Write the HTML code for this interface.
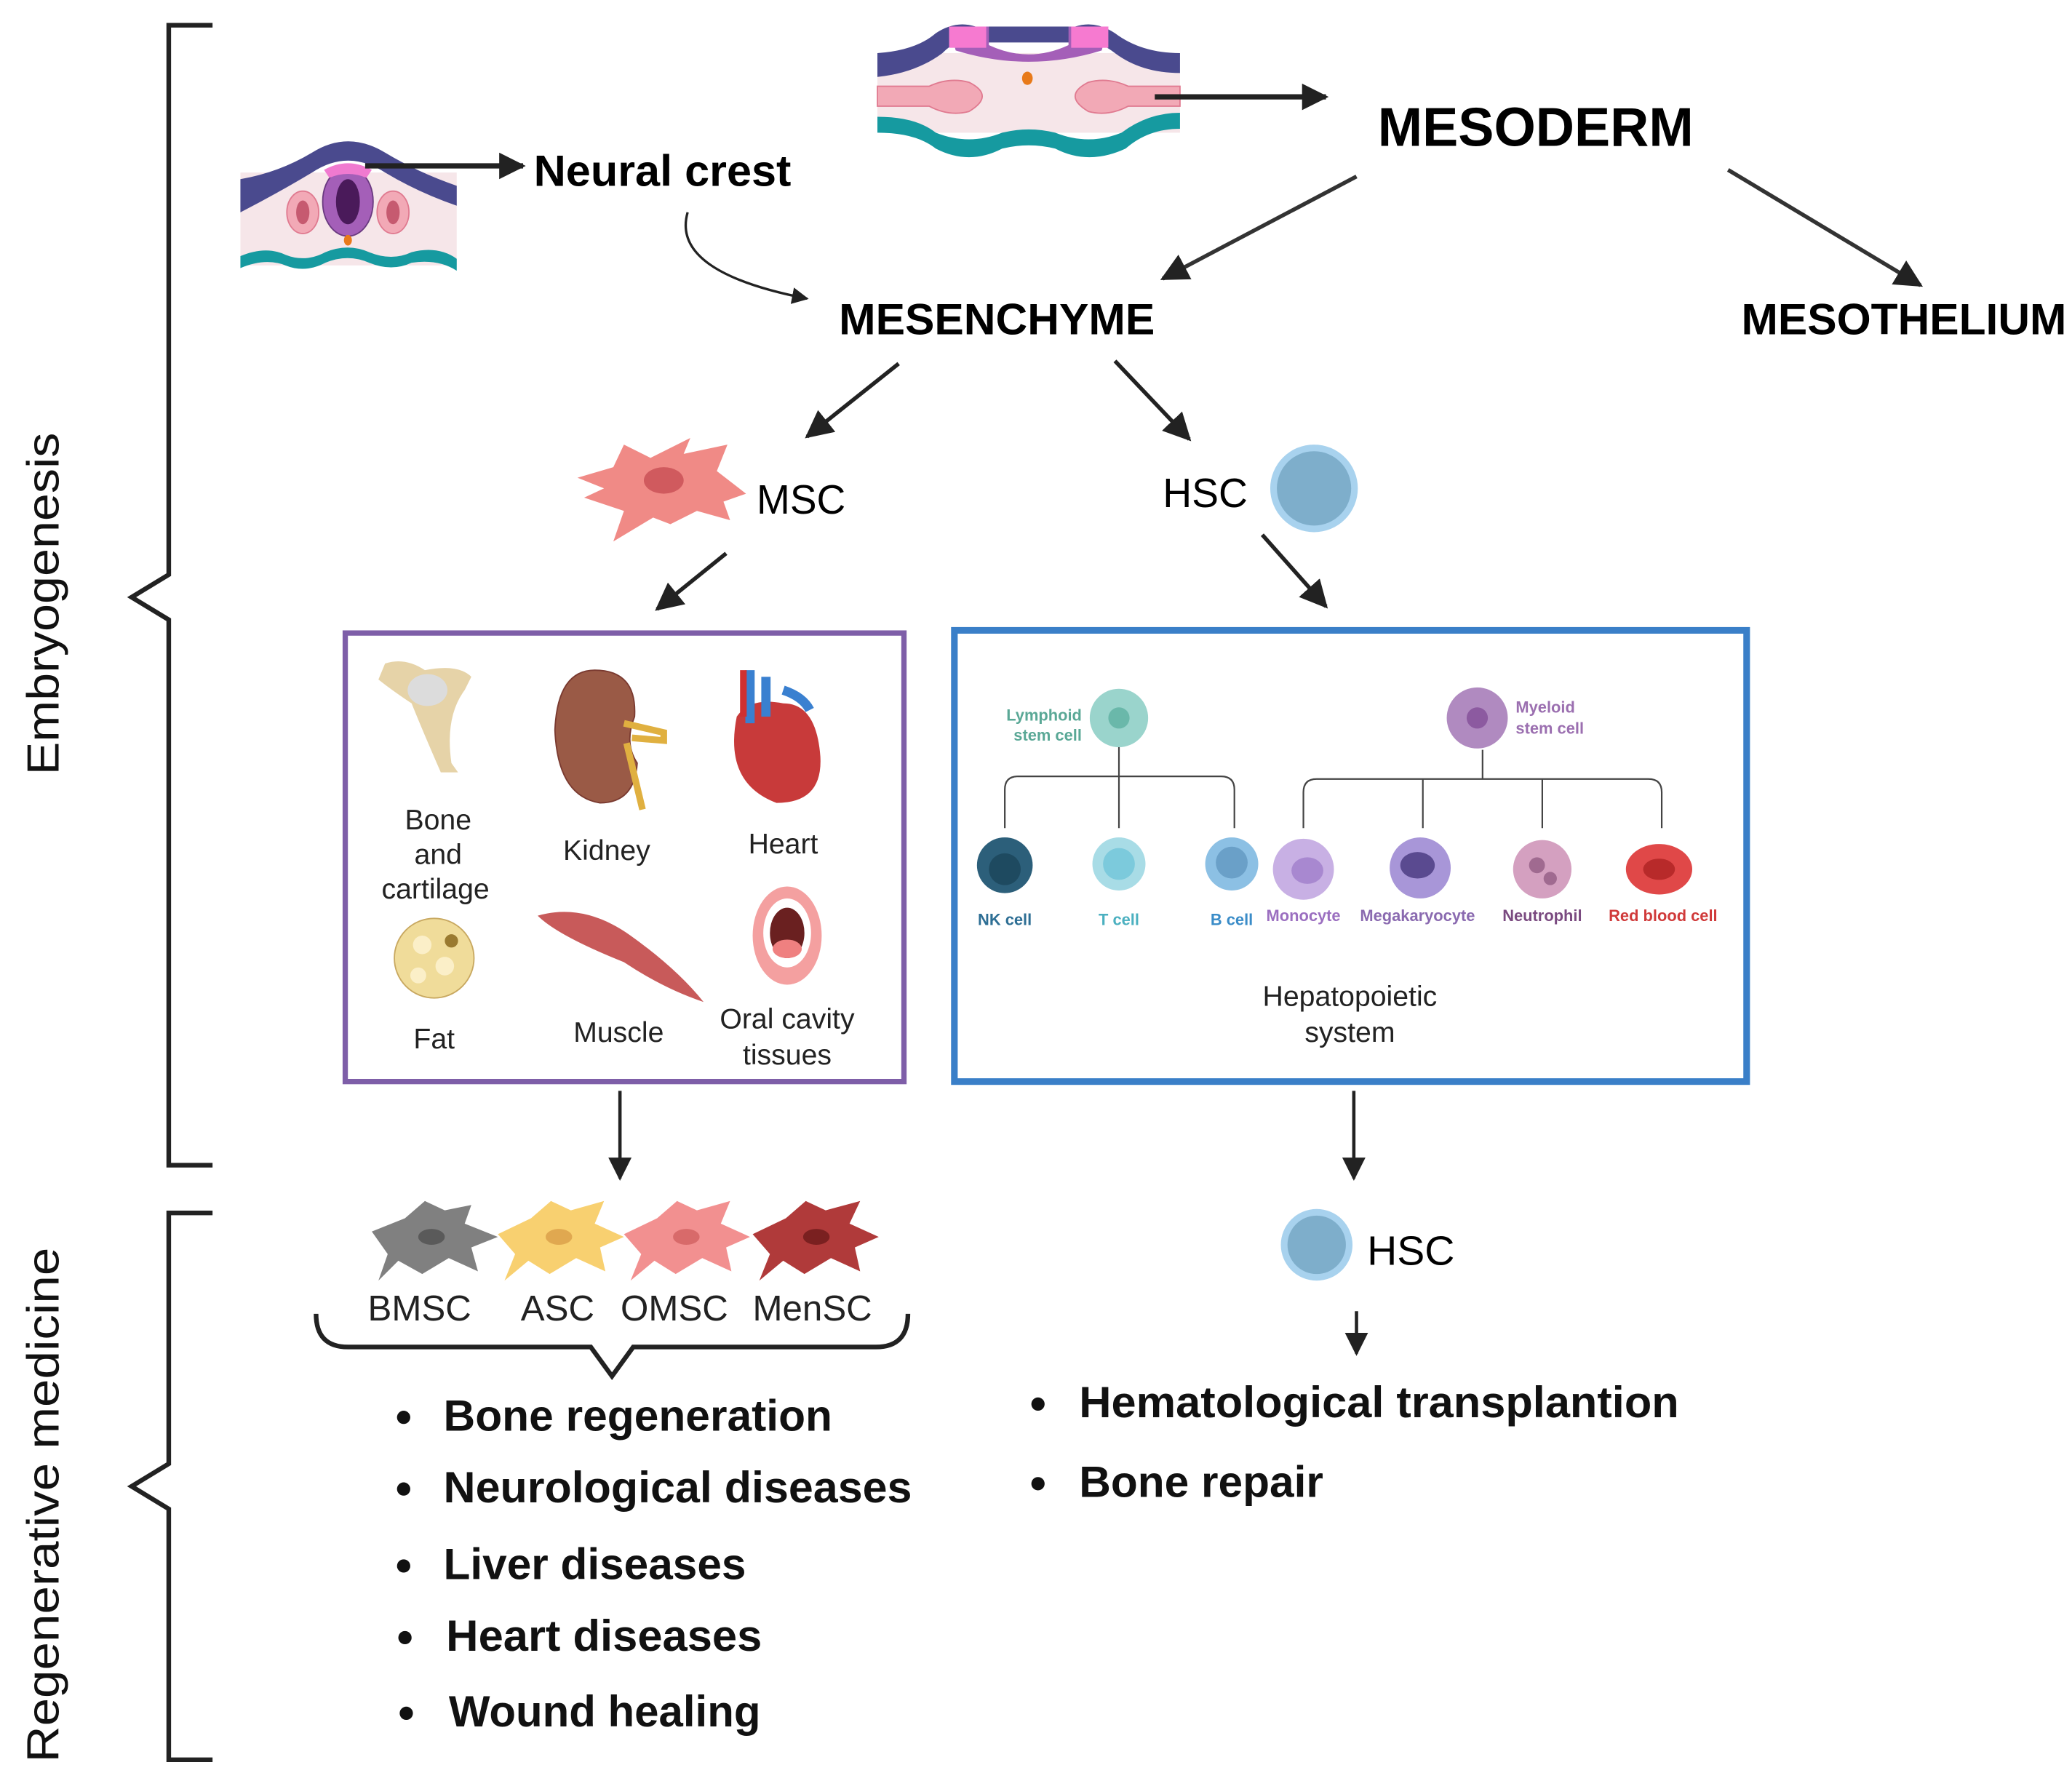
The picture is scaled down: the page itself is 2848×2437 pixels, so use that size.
<!DOCTYPE html>
<html><head><meta charset="utf-8"><style>
html,body{margin:0;padding:0;background:#fff;}
svg{display:block;}
text{font-family:"Liberation Sans",sans-serif;}
</style></head><body>
<svg width="2848" height="2437" viewBox="0 0 1561 1336" xmlns="http://www.w3.org/2000/svg">
<defs>
<marker id="ah" viewBox="0 0 10 10" refX="9" refY="5" markerWidth="5" markerHeight="5" orient="auto"><path d="M0,0 L10,5 L0,10 z" fill="#222"/></marker>
<marker id="ahs" viewBox="0 0 10 10" refX="9" refY="5" markerWidth="7" markerHeight="7" orient="auto"><path d="M0,0 L10,5 L0,10 z" fill="#222"/></marker>
</defs>
<rect width="1561" height="1336" fill="#fff"/>

<!-- brackets -->
<path d="M160,19 H127 V433 L99,450 L127,467 V878 H160" fill="none" stroke="#222" stroke-width="3.5"/>
<path d="M160,914 H127 V1103 L99,1120 L127,1137 V1326 H160" fill="none" stroke="#222" stroke-width="3.5"/>
<text transform="translate(44,455) rotate(-90)" font-size="34" text-anchor="middle" fill="#111" textLength="258" lengthAdjust="spacingAndGlyphs">Embryogenesis</text>
<text transform="translate(44,1134) rotate(-90)" font-size="34" text-anchor="middle" fill="#111" textLength="388" lengthAdjust="spacingAndGlyphs">Regenerative medicine</text>

<!-- neural crest embryo -->
<g>
<rect x="181" y="130" width="163" height="70" fill="#f6e6e9"/>
<path d="M181,135 Q210,130 235,115 Q262,98 290,115 Q315,130 344,140 V155 Q315,145 290,130 Q262,112 235,130 Q210,145 181,160 z" fill="#4a4a8e"/>
<ellipse cx="262" cy="152" rx="19" ry="26" fill="#a45fb8" stroke="#6a3a80"/>
<ellipse cx="262" cy="152" rx="9" ry="17" fill="#4a1a5a"/>
<path d="M244,128 Q262,118 280,128 L276,134 Q262,128 248,134 z" fill="#f07ad0"/>
<ellipse cx="228" cy="160" rx="12" ry="16" fill="#f2a9b6" stroke="#e07a90"/>
<ellipse cx="228" cy="160" rx="5" ry="9" fill="#c65a70"/>
<ellipse cx="296" cy="160" rx="12" ry="16" fill="#f2a9b6" stroke="#e07a90"/>
<ellipse cx="296" cy="160" rx="5" ry="9" fill="#c65a70"/>
<ellipse cx="262" cy="181" rx="3" ry="4" fill="#e87a1a"/>
<path d="M181,193 Q200,185 215,192 Q230,198 245,190 Q262,183 278,190 Q295,197 310,190 Q330,185 344,195 V204 Q330,195 310,198 Q295,205 278,198 Q262,191 245,198 Q230,206 215,200 Q200,194 181,202 z" fill="#169aa0"/>
</g>
<line x1="275" y1="125" x2="394" y2="125" stroke="#222" stroke-width="4" marker-end="url(#ah)"/>

<!-- mesoderm embryo -->
<g>
<rect x="661" y="40" width="228" height="60" fill="#f6e6e9"/>
<path d="M661,40 Q690,38 705,25 Q720,15 735,20 H810 Q825,15 840,25 Q860,40 889,40 V55 Q860,55 840,40 Q820,25 805,32 H740 Q725,25 710,40 Q690,55 661,58 z" fill="#4a4a8e"/>
<path d="M715,20 H745 L745,34 Q775,48 805,34 L805,20 H835 L830,38 Q775,55 720,38 z" fill="#a45fb8"/>
<rect x="715" y="20" width="28" height="16" fill="#f67ad0"/>
<rect x="807" y="20" width="28" height="16" fill="#f67ad0"/>
<ellipse cx="774" cy="59" rx="4" ry="5" fill="#e87a1a"/>
<path d="M661,65 H700 Q715,58 730,62 Q750,72 730,84 Q715,88 700,80 H661 z" fill="#f2a9b6" stroke="#e07a90"/>
<path d="M889,65 H850 Q835,58 820,62 Q800,72 820,84 Q835,88 850,80 H889 z" fill="#f2a9b6" stroke="#e07a90"/>
<path d="M661,88 Q690,88 705,100 Q730,110 755,100 Q775,95 795,100 Q820,110 845,100 Q865,85 889,85 V97 Q865,97 848,112 Q820,125 795,112 Q775,107 755,112 Q730,125 705,112 Q690,100 661,100 z" fill="#169aa0"/>
</g>
<line x1="870" y1="73" x2="999" y2="73" stroke="#222" stroke-width="4" marker-end="url(#ah)"/>

<text x="402" y="140" font-size="33" font-weight="bold" textLength="194" lengthAdjust="spacingAndGlyphs">Neural crest</text>
<text x="1038" y="110" font-size="41" font-weight="bold" textLength="238" lengthAdjust="spacingAndGlyphs">MESODERM</text>
<text x="632" y="252" font-size="33" font-weight="bold" textLength="238" lengthAdjust="spacingAndGlyphs">MESENCHYME</text>
<text x="1312" y="252" font-size="33" font-weight="bold" textLength="245" lengthAdjust="spacingAndGlyphs">MESOTHELIUM</text>

<!-- arrows -->
<line x1="1022" y1="133" x2="876" y2="210" stroke="#333" stroke-width="3" marker-end="url(#ahs)"/>
<line x1="1302" y1="128" x2="1447" y2="215" stroke="#333" stroke-width="3" marker-end="url(#ahs)"/>
<path d="M518,160 Q505,205 608,225" fill="none" stroke="#222" stroke-width="1.8" marker-end="url(#ahs)"/>
<line x1="677" y1="274" x2="608" y2="329" stroke="#222" stroke-width="3" marker-end="url(#ahs)"/>
<line x1="840" y1="272" x2="896" y2="331" stroke="#222" stroke-width="3" marker-end="url(#ahs)"/>
<line x1="547" y1="417" x2="495" y2="459" stroke="#222" stroke-width="3" marker-end="url(#ahs)"/>
<line x1="951" y1="403" x2="999" y2="457" stroke="#222" stroke-width="3" marker-end="url(#ahs)"/>

<!-- MSC cell -->
<path d="M435,360 L462,352 L470,335 L490,345 L520,330 L515,342 L548,335 L540,355 L562,372 L545,378 L550,392 L525,385 L505,395 L492,390 L462,408 L470,385 L440,375 L455,368 z" fill="#f08a86"/>
<ellipse cx="500" cy="362" rx="15" ry="10" fill="#d05a5e"/>
<text x="570" y="387" font-size="31" textLength="67" lengthAdjust="spacingAndGlyphs">MSC</text>
<text x="876" y="382" font-size="31" textLength="64" lengthAdjust="spacingAndGlyphs">HSC</text>
<circle cx="990" cy="368" r="33" fill="#a8d2ee"/>
<circle cx="990" cy="368" r="28" fill="#7eaecb"/>

<!-- purple box -->
<rect x="260" y="477" width="421" height="338" fill="#fff" stroke="#7e5ea8" stroke-width="4"/>
<!-- bone -->
<path d="M290,500 Q305,495 320,505 Q345,500 355,510 L350,520 Q335,540 340,575 L345,582 L332,582 Q318,550 310,530 Q295,520 285,512 z" fill="#e6d3a8"/>
<ellipse cx="322" cy="520" rx="15" ry="12" fill="#dcdcdc"/>
<!-- kidney -->
<path d="M448,505 Q420,505 418,550 Q420,600 452,605 Q478,605 480,575 Q470,560 478,540 Q480,505 448,505 z" fill="#9a5a46" stroke="#7a3a30"/>
<path d="M470,545 L500,552 L500,558 L476,556 M472,560 L484,610" stroke="#e0b040" stroke-width="5" fill="none"/>
<!-- heart -->
<path d="M555,540 Q545,590 585,605 Q620,605 618,570 Q615,530 590,530 Q565,525 555,540 z" fill="#c83a3a"/>
<path d="M565,505 V545 M577,510 V540 M590,520 Q605,525 610,535" stroke="#3a80d0" stroke-width="7" fill="none"/>
<path d="M560,505 V540" stroke="#d03030" stroke-width="5"/>
<!-- fat -->
<ellipse cx="327" cy="722" rx="30" ry="30" fill="#f0dc9a" stroke="#c8a860"/>
<circle cx="318" cy="712" r="7" fill="#fbefc8"/><circle cx="335" cy="728" r="7" fill="#fbefc8"/><circle cx="315" cy="735" r="6" fill="#fbefc8"/><circle cx="340" cy="709" r="5" fill="#9a7a30"/>
<!-- muscle -->
<path d="M405,690 Q440,680 475,705 Q510,730 530,755 Q500,745 470,725 Q420,705 405,690 z" fill="#c85a5a"/>
<!-- mouth -->
<ellipse cx="593" cy="705" rx="26" ry="37" fill="#f4a0a0"/>
<ellipse cx="593" cy="703" rx="18" ry="26" fill="#fff"/>
<ellipse cx="593" cy="703" rx="13" ry="19" fill="#6a2020"/>
<ellipse cx="593" cy="715" rx="11" ry="7" fill="#ef8080"/>
<g font-size="21.5" text-anchor="middle" fill="#222">
<text x="330" y="625">Bone</text><text x="330" y="651">and</text><text x="328" y="677">cartilage</text>
<text x="457" y="648">Kidney</text><text x="590" y="643">Heart</text>
<text x="327" y="790">Fat</text><text x="466" y="785">Muscle</text>
<text x="593" y="775">Oral cavity</text><text x="593" y="802">tissues</text>
</g>

<!-- blue box -->
<rect x="719" y="475" width="597" height="340" fill="#fff" stroke="#3a7fc8" stroke-width="5"/>
<circle cx="843" cy="541" r="22" fill="#9ad4cc"/><circle cx="843" cy="541" r="8" fill="#6ab8aa"/>
<text x="815" y="543" font-size="12" font-weight="bold" fill="#5aa896" text-anchor="end">Lymphoid</text>
<text x="815" y="558" font-size="12" font-weight="bold" fill="#5aa896" text-anchor="end">stem cell</text>
<circle cx="1113" cy="541" r="23" fill="#b08ac0"/><circle cx="1113" cy="541" r="8" fill="#8c5aa0"/>
<text x="1142" y="537" font-size="12" font-weight="bold" fill="#9b6fb0">Myeloid</text>
<text x="1142" y="553" font-size="12" font-weight="bold" fill="#9b6fb0">stem cell</text>
<g fill="none" stroke="#444" stroke-width="1.2">
<path d="M843,563 V624"/><path d="M757,624 V595 Q757,585 767,585 H920 Q930,585 930,595 V624"/>
<path d="M1117,565 V587"/><path d="M982,624 V597 Q982,587 992,587 H1242 Q1252,587 1252,597 V624"/>
<path d="M1072,587 V624 M1162,587 V624"/>
</g>
<circle cx="757" cy="652" r="21" fill="#2c5f7a"/><circle cx="757" cy="655" r="12" fill="#1e4a60"/>
<circle cx="843" cy="651" r="20" fill="#a8dce6"/><circle cx="843" cy="651" r="12" fill="#7ccadc"/>
<circle cx="928" cy="651" r="20" fill="#8cc0e4"/><circle cx="928" cy="650" r="12" fill="#6aa0c8"/>
<circle cx="982" cy="655" r="23" fill="#c8b0e4"/><ellipse cx="985" cy="656" rx="12" ry="10" fill="#a888d0"/>
<circle cx="1070" cy="654" r="23" fill="#a896d8"/><ellipse cx="1068" cy="652" rx="13" ry="10" fill="#5a4a90"/>
<circle cx="1162" cy="655" r="22" fill="#d4a0c0"/><circle cx="1158" cy="652" r="6" fill="#a06a90"/><circle cx="1168" cy="662" r="5" fill="#a06a90"/>
<ellipse cx="1250" cy="655" rx="25" ry="19" fill="#e04848"/><ellipse cx="1250" cy="655" rx="12" ry="8" fill="#b82a2a"/>
<g font-size="12" font-weight="bold" text-anchor="middle">
<text x="757" y="697" fill="#2d6e94">NK cell</text>
<text x="843" y="697" fill="#4bb0c0">T cell</text>
<text x="928" y="697" fill="#3a8cc8">B cell</text>
<text x="982" y="694" fill="#9b6fc0">Monocyte</text>
<text x="1068" y="694" fill="#8a6ab0">Megakaryocyte</text>
<text x="1162" y="694" fill="#7a4a80">Neutrophil</text>
<text x="1253" y="694" fill="#d03a3a">Red blood cell</text>
</g>
<text x="1017" y="758" font-size="21.5" text-anchor="middle" fill="#222">Hepatopoietic</text>
<text x="1017" y="785" font-size="21.5" text-anchor="middle" fill="#222">system</text>

<!-- down arrows -->
<line x1="467" y1="822" x2="467" y2="888" stroke="#222" stroke-width="2.5" marker-end="url(#ahs)"/>
<line x1="1020" y1="822" x2="1020" y2="888" stroke="#222" stroke-width="2.5" marker-end="url(#ahs)"/>

<!-- MSC types -->
<g>
<path d="M280,928 L305,918 L320,905 L335,912 L355,908 L350,922 L375,932 L355,940 L360,958 L338,948 L318,960 L300,950 L285,965 L292,945 z" fill="#808080"/>
<path d="M375,930 L400,918 L415,905 L430,912 L455,905 L448,922 L470,932 L452,940 L456,958 L434,948 L414,960 L398,950 L380,965 L388,945 z" fill="#f8d070"/>
<path d="M470,930 L495,918 L510,905 L525,912 L550,905 L543,922 L565,932 L547,940 L551,958 L529,948 L509,960 L493,950 L475,965 L483,945 z" fill="#f29090"/>
<path d="M567,930 L592,918 L607,905 L622,912 L648,905 L640,922 L662,932 L644,940 L648,958 L626,948 L606,960 L590,950 L572,965 L580,945 z" fill="#b03a3a"/>
<ellipse cx="325" cy="932" rx="10" ry="6" fill="#5a5a5a"/>
<ellipse cx="421" cy="932" rx="10" ry="6" fill="#e0a850"/>
<ellipse cx="517" cy="932" rx="10" ry="6" fill="#d86a6a"/>
<ellipse cx="615" cy="932" rx="10" ry="6" fill="#7a2020"/>
</g>
<g font-size="27" text-anchor="middle" fill="#222">
<text x="316" y="995">BMSC</text><text x="420" y="995">ASC</text><text x="508" y="995">OMSC</text><text x="612" y="995">MenSC</text>
</g>
<path d="M238,990 Q238,1015 262,1015 H445 L461,1037 L477,1015 H660 Q684,1015 684,990" fill="none" stroke="#222" stroke-width="3.5"/>

<circle cx="992" cy="938" r="27" fill="#a8d2ee"/><circle cx="992" cy="938" r="22" fill="#7eaecb"/>
<text x="1030" y="953" font-size="31" textLength="66" lengthAdjust="spacingAndGlyphs">HSC</text>
<line x1="1022" y1="988" x2="1022" y2="1020" stroke="#222" stroke-width="2.5" marker-end="url(#ahs)"/>

<g font-size="33" font-weight="bold" fill="#111">
<circle cx="304" cy="1068" r="5"/><text x="334" y="1078" textLength="293" lengthAdjust="spacingAndGlyphs">Bone regeneration</text>
<circle cx="304" cy="1122" r="5"/><text x="334" y="1132" textLength="353" lengthAdjust="spacingAndGlyphs">Neurological diseases</text>
<circle cx="304" cy="1180" r="5"/><text x="334" y="1190" textLength="228" lengthAdjust="spacingAndGlyphs">Liver diseases</text>
<circle cx="305" cy="1234" r="5"/><text x="336" y="1244" textLength="238" lengthAdjust="spacingAndGlyphs">Heart diseases</text>
<circle cx="306" cy="1291" r="5"/><text x="338" y="1301" textLength="235" lengthAdjust="spacingAndGlyphs">Wound healing</text>
<circle cx="782" cy="1058" r="5"/><text x="813" y="1068" textLength="452" lengthAdjust="spacingAndGlyphs">Hematological transplantion</text>
<circle cx="782" cy="1118" r="5"/><text x="813" y="1128" textLength="184" lengthAdjust="spacingAndGlyphs">Bone repair</text>
</g>
</svg>
</body></html>
